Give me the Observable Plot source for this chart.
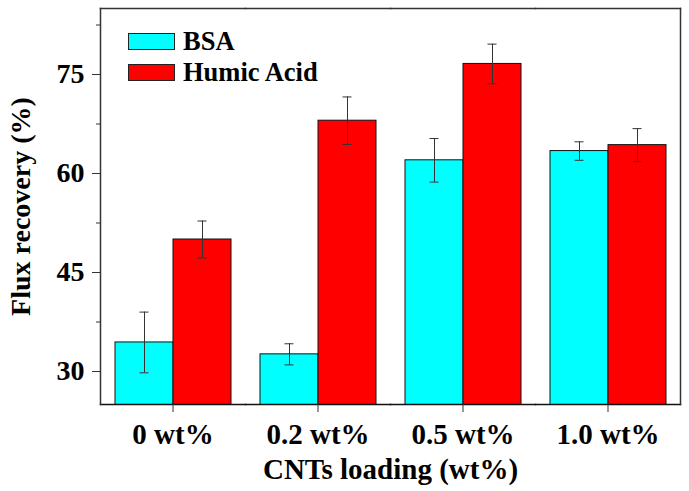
<!DOCTYPE html>
<html><head><meta charset="utf-8">
<script src="https://cdn.jsdelivr.net/npm/d3@7"></script>
<script src="https://cdn.jsdelivr.net/npm/@observablehq/plot@0.6"></script>
<style>
body{margin:0;background:#fff;}
#wrap{position:relative;width:689px;height:491px;}
.legend{position:absolute;left:128px;top:26px;font-family:"Liberation Serif",serif;font-weight:bold;font-size:26.5px;color:#000;}
.legend .row{display:flex;align-items:center;height:31px;}
.legend .sw{width:45px;height:15px;border:1px solid #222;margin-right:8px;}
</style></head><body><div id="wrap"></div>
<script>
const categories = ["0 wt%", "0.2 wt%", "0.5 wt%", "1.0 wt%"];
const series = ["BSA", "Humic Acid"];
const bsaValues = [34.4, 32.6, 62.0, 63.4];
const bsaErrors = [4.6, 1.6, 3.3, 1.4];
const haValues = [50.0, 68.0, 76.6, 64.3];
const haErrors = [2.8, 3.6, 3.0, 2.5];
const seriesColors = ["#00FFFF", "#FF0000"];
const yDomain = [25, 85];
const yTicks = [30, 45, 60, 75];
const yMinorTicks = [37.5, 52.5, 67.5, 82.5];
const xTitle = "CNTs loading (wt%)";
const yTitle = "Flux recovery (%)";

const data = categories.flatMap((c, i) => [
  {category: c, series: series[0], value: bsaValues[i], err: bsaErrors[i]},
  {category: c, series: series[1], value: haValues[i], err: haErrors[i]}
]);

const font = '"Liberation Serif", "Times New Roman", serif';
const chart = Plot.plot({
  width: 689, height: 491,
  marginLeft: 100, marginRight: 9, marginTop: 8, marginBottom: 87,
  style: {fontFamily: font, fontWeight: "bold", fontSize: "28px", color: "#000", background: "#fff"},
  fx: {domain: categories, padding: 0},
  x: {domain: series, paddingInner: 0, paddingOuter: 0.25, axis: null},
  y: {domain: yDomain},
  color: {domain: series, range: seriesColors},
  marks: [
    Plot.barY(data, {fx: "category", x: "series", y: "value", fill: "series", stroke: "#111", strokeWidth: 1, clip: true}),
    Plot.ruleX(data, {fx: "category", x: "series", y1: d => d.value - d.err, y2: d => d.value + d.err, stroke: "#333", strokeWidth: 1}),
    Plot.tickY(data, {fx: "category", x: "series", y: d => d.value + d.err, insetLeft: 24.5, insetRight: 24.5, stroke: "#333", strokeWidth: 1}),
    Plot.tickY(data, {fx: "category", x: "series", y: d => d.value - d.err, insetLeft: 24.5, insetRight: 24.5, stroke: "#333", strokeWidth: 1}),
    Plot.frame({anchor: "top", stroke: "#333", strokeWidth: 1.5}),
    Plot.frame({anchor: "bottom", stroke: "#111", strokeWidth: 1.5}),
    Plot.frame({anchor: "left", facetAnchor: "left", stroke: "#333", strokeWidth: 1.5}),
    Plot.frame({anchor: "right", facetAnchor: "right", stroke: "#333", strokeWidth: 1.5}),
    Plot.axisY(yMinorTicks, {tickSize: 4, stroke: "#333", tickFormat: () => "", label: null}),
    Plot.axisY({ticks: yTicks, tickSize: 8, tickPadding: 8, stroke: "#333",
      label: yTitle, labelAnchor: "center", labelArrow: "none", labelOffset: 90, fontSize: 28}),
    Plot.axisFx({anchor: "bottom", tickSize: 8, tickPadding: 11, stroke: "#333",
      label: xTitle, labelAnchor: "center", labelArrow: "none", labelOffset: 74, fontSize: 29})
  ]
});
const wrap = document.getElementById("wrap");
wrap.appendChild(chart);
const legend = document.createElement("div");
legend.className = "legend";
series.forEach((s, i) => {
  const row = document.createElement("div");
  row.className = "row";
  const sw = document.createElement("div");
  sw.className = "sw";
  sw.style.background = seriesColors[i];
  const t = document.createElement("span");
  t.textContent = s;
  row.appendChild(sw); row.appendChild(t);
  legend.appendChild(row);
});
wrap.appendChild(legend);
</script></body></html>
